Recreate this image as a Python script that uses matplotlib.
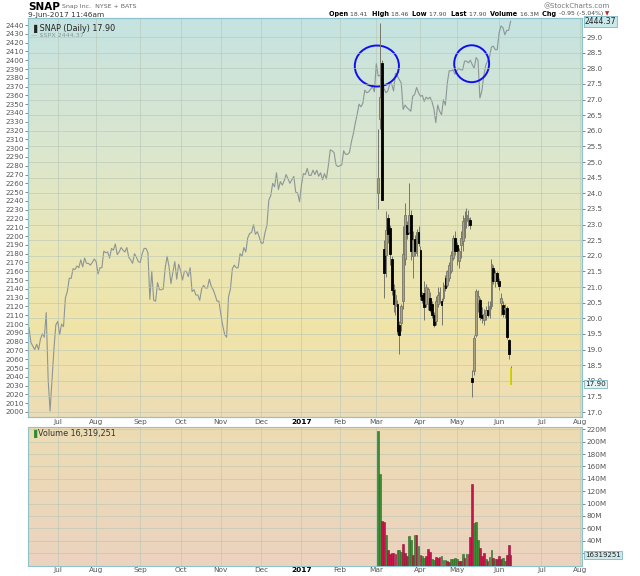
import numpy as np
import pandas as pd
import matplotlib
matplotlib.use("Agg")
import matplotlib.pyplot as plt
from matplotlib.patches import Ellipse, Rectangle
from matplotlib.colors import LinearSegmentedColormap

# ---------------- data ----------------
holidays = ["2016-07-04", "2016-09-05", "2016-11-24", "2016-12-26", "2017-01-02",
            "2017-01-16", "2017-02-20", "2017-04-14", "2017-05-29", "2017-07-04"]
days = pd.bdate_range("2016-06-10", "2017-08-10", freq="C", holidays=holidays)

spx_close = [
    # Jun 2016 (from 10th)
    2096, 2079, 2075, 2071, 2077, 2071, 2083, 2089, 2085, 2113, 2037, 2001, 2036, 2071, 2099,
    # Jul
    2103, 2088, 2100, 2097, 2130, 2137, 2152, 2152, 2163, 2162, 2166, 2164, 2173, 2165, 2175,
    2169, 2169, 2167, 2170, 2174,
    # Aug
    2171, 2157, 2164, 2164, 2183, 2181, 2182, 2175, 2186, 2184, 2191, 2179, 2182, 2187, 2184,
    2182, 2187, 2176, 2173, 2169, 2180, 2176, 2171,
    # Sep
    2170, 2180, 2186, 2186, 2181, 2128, 2160, 2127, 2126, 2147, 2139, 2139, 2140, 2164, 2177,
    2165, 2146, 2159, 2171, 2151, 2168,
    # Oct
    2161, 2150, 2160, 2160, 2154, 2164, 2137, 2139, 2133, 2133, 2127, 2140, 2144, 2141, 2141,
    2151, 2143, 2139, 2133, 2126, 2126,
    # Nov
    2111, 2098, 2088, 2085, 2131, 2140, 2163, 2167, 2164, 2164, 2180, 2177, 2187, 2182, 2198,
    2203, 2204, 2213, 2202, 2205, 2199,
    # Dec
    2192, 2192, 2204, 2212, 2241, 2246, 2260, 2256, 2272, 2253, 2262, 2258, 2263, 2270, 2265,
    2260, 2264, 2268, 2250, 2249, 2239,
    # Jan 2017
    2258, 2271, 2270, 2277, 2269, 2269, 2275, 2270, 2275, 2268, 2272, 2264, 2271, 2265, 2280,
    2298, 2297, 2295, 2281, 2279,
    # Feb
    2280, 2281, 2297, 2293, 2293, 2295, 2307, 2316, 2328, 2338, 2350, 2347, 2351, 2366, 2363,
    2364, 2367, 2370, 2364,
    # Mar
    2396, 2382, 2383, 2375, 2368, 2363, 2365, 2373, 2373, 2365, 2385, 2382, 2378, 2374, 2344,
    2349, 2346, 2344, 2342, 2359, 2361, 2369, 2363,
    # Apr
    2359, 2360, 2353, 2358, 2356, 2358, 2353, 2345, 2329, 2349, 2342, 2338, 2355, 2349, 2374,
    2388, 2388, 2389, 2384,
    # May
    2388, 2391, 2389, 2389, 2399, 2399, 2397, 2400, 2395, 2391, 2403, 2400, 2357, 2365, 2382,
    2394, 2399, 2404, 2415, 2416, 2412, 2412,
    # Jun
    2431, 2439, 2437, 2429, 2434, 2434, 2444.37,
]

snap_start = "2017-03-02"
snap_open = [24.00, 26.39, 28.17, 22.21, 22.03, 23.20, 22.90, 21.90, 20.90, 20.40,
             20.45, 19.80, 19.85, 20.55, 21.90, 23.00, 22.75, 23.30, 22.00, 22.55,
             22.10, 22.75, 22.20, 20.75, 20.80, 20.45, 20.50, 20.64, 20.45, 20.10,
             19.90, 20.45, 20.60, 20.54, 20.64, 21.29, 21.07, 21.29, 21.50, 21.93,
             22.57, 22.35, 21.82, 22.36, 22.47, 22.79, 23.11, 23.10, 23.15, 18.10,
             18.30, 19.47, 20.50, 20.60, 20.10, 19.95, 20.10, 20.25, 20.10, 20.40,
             21.60, 21.20, 21.45, 21.20, 20.50, 20.43, 20.30, 20.32, 19.30, 18.41]
snap_high = [26.05, 29.44, 28.25, 22.50, 23.43, 23.35, 23.00, 22.00, 21.10, 20.95,
             20.60, 19.90, 20.45, 22.95, 23.70, 23.10, 24.33, 23.45, 22.80, 22.65,
             22.85, 22.95, 22.30, 20.85, 21.20, 21.10, 21.00, 20.85, 20.55, 20.20,
             20.70, 21.00, 21.00, 20.65, 21.15, 21.39, 21.55, 21.80, 22.15, 22.65,
             22.79, 22.45, 22.25, 22.79, 23.32, 23.43, 23.54, 23.45, 23.25, 18.35,
             19.45, 20.95, 20.90, 20.65, 20.35, 20.30, 20.40, 20.55, 20.55, 21.90,
             21.70, 21.55, 21.50, 21.30, 20.80, 20.55, 20.45, 20.40, 19.35, 18.46]
snap_low = [23.50, 26.06, 23.77, 20.64, 21.31, 22.40, 21.70, 20.75, 20.20, 20.10,
            19.50, 18.85, 19.60, 20.30, 21.70, 22.55, 22.70, 21.85, 21.30, 22.00,
            22.00, 22.30, 20.60, 20.50, 19.95, 20.35, 20.25, 20.20, 20.00, 19.72,
            19.80, 20.35, 20.50, 19.79, 20.55, 20.86, 21.00, 21.20, 21.45, 21.85,
            22.04, 21.72, 21.61, 21.93, 22.14, 22.57, 22.90, 22.95, 22.85, 17.48,
            18.20, 19.40, 20.20, 19.95, 19.85, 19.80, 19.95, 20.05, 20.00, 20.30,
            21.10, 21.00, 21.10, 20.90, 20.10, 20.05, 20.00, 19.35, 18.70, 17.90]
snap_close = [24.48, 27.09, 23.77, 21.44, 22.81, 22.71, 22.07, 20.90, 20.45, 20.75,
              19.60, 19.45, 20.40, 22.05, 23.30, 22.70, 23.30, 22.14, 22.50, 22.14,
              22.75, 22.40, 20.70, 20.60, 20.35, 21.00, 20.95, 20.25, 20.10, 19.80,
              20.55, 20.75, 20.85, 20.43, 21.07, 20.97, 21.50, 21.72, 22.04, 22.57,
              22.14, 22.14, 22.14, 22.57, 23.11, 23.22, 23.32, 23.20, 22.98, 17.95,
              19.36, 20.86, 20.70, 20.05, 20.00, 20.15, 20.25, 20.10, 20.40, 21.75,
              21.18, 21.45, 21.20, 21.02, 20.65, 20.15, 20.32, 19.41, 18.85, 17.90]
snap_volume_m = [217, 148, 72, 71, 50, 25, 19, 20, 20, 18,
                 24.5, 24.5, 22, 35, 20, 16, 48, 41, 17, 49,
                 50, 32, 17, 15, 12, 15.5, 26, 22, 10, 9,
                 13, 12, 13, 16, 9, 9.6, 7, 6, 10.4, 10.9,
                 12, 9.8, 7.6, 7.6, 19, 12.6, 18, 18, 46.6, 132,
                 68, 70, 41, 29, 16, 20, 9.8, 7.6, 14, 24.5,
                 11.7, 10.9, 10.4, 16, 11, 12, 7.6, 17, 33, 16.3]
volume_dir = ("ggrrgrrrrrgggrrrggrgrgrggrrrggrrrgggrrg"
              "gggrrgrgrrr" "gggrrrgrgg" "rgrrrggrrr")

month_labels = ["Jul", "Aug", "Sep", "Oct", "Nov", "Dec", "2017",
                "Feb", "Mar", "Apr", "May", "Jun", "Jul", "Aug"]
snap_ticks = np.arange(17.0, 29.01, 0.5)
spx_ticks = np.arange(2000, 2441, 10)
vol_ticks = np.arange(20, 221, 20)

# ---------------- positions ----------------
n_spx = len(spx_close)
spx_x = np.arange(n_spx)
s0 = days.get_loc(pd.Timestamp(snap_start))
snap_x = np.arange(s0, s0 + len(snap_close))
mstarts = []
for y, m in [(2016, 7), (2016, 8), (2016, 9), (2016, 10), (2016, 11), (2016, 12),
             (2017, 1), (2017, 2), (2017, 3), (2017, 4), (2017, 5), (2017, 6),
             (2017, 7), (2017, 8)]:
    mstarts.append(int(np.argmax((days.year == y) & (days.month == m))))

# ---------------- figure ----------------
W, H = 640, 576
fig = plt.figure(figsize=(6.4, 5.76), dpi=100)
fig.patch.set_facecolor("white")


def rect(l, t, r, b):
    return [l / W, 1 - b / H, (r - l) / W, (b - t) / H]


main_rect = rect(28, 18, 582, 417)
vol_rect = rect(28, 427, 582, 566)

grad = np.linspace(0, 1, 256).reshape(-1, 1)
main_cmap = LinearSegmentedColormap.from_list(
    "m", [(0, "#c5e3e1"), (0.3, "#d9e6d0"), (0.55, "#e9e7b9"), (0.78, "#f0e4a8"), (1, "#eedcb5")])
vol_cmap = LinearSegmentedColormap.from_list("v", [(0, "#eddcb2"), (1, "#ebd3c0")])
for r, cm in [(main_rect, main_cmap), (vol_rect, vol_cmap)]:
    bg = fig.add_axes(r, zorder=-5)
    bg.imshow(grad, aspect="auto", cmap=cm, extent=(0, 1, 0, 1), origin="upper")
    bg.set_axis_off()

XL = (-0.5, 288.2)
grid_c = "#b9c7b6"
lab_c = "#555555"

# main panel: SPX (left) + SNAP (right)
ax = fig.add_axes(main_rect)
ax.patch.set_visible(False)
ax.plot(spx_x, spx_close, color="#8c9696", lw=0.8, zorder=2)
ax.set_xlim(*XL)
ax.set_ylim(1994.3, 2448.0)
ax.set_yticks(spx_ticks)
ax.set_yticklabels([f"{v:d}" for v in spx_ticks])
ax.tick_params(axis="y", labelsize=5.2, colors=lab_c, length=2, width=0.5, pad=1)
ax.set_xticks(mstarts)
ax.set_xticklabels(month_labels)
ax.tick_params(axis="x", labelsize=5.3, colors=lab_c, length=0, pad=1.5)
for lab in ax.get_xticklabels():
    if lab.get_text() == "2017":
        lab.set_fontweight("bold")
        lab.set_color("black")
for x in mstarts:
    ax.axvline(x, color=grid_c, lw=0.6, alpha=0.7, zorder=1)

axs = ax.twinx()
axs.set_ylim(16.84, 29.61)
axs.set_xlim(*XL)
axs.set_yticks(snap_ticks)
axs.set_yticklabels([f"{v:.1f}" for v in snap_ticks])
axs.tick_params(axis="y", labelsize=5.2, colors=lab_c, length=2, width=0.5, pad=1)
for v in snap_ticks:
    axs.axhline(v, color=grid_c, lw=0.6, alpha=0.7, zorder=0)

for i in range(len(snap_close)):
    x = snap_x[i]
    o, h, l, c = snap_open[i], snap_high[i], snap_low[i], snap_close[i]
    axs.vlines(x, l, h, color="#77776a", lw=0.7, zorder=3)
    lo, hi = min(o, c), max(o, c)
    hi = max(hi, lo + 0.03)
    last = i == len(snap_close) - 1
    if c >= o:
        fc, ec = "#aaa384", "#77776a"
    else:
        fc, ec = "black", "black"
    if last:
        ec = "#e6e600"
    axs.add_patch(Rectangle((x - 0.45, lo), 0.9, hi - lo, facecolor=fc, edgecolor=ec,
                            lw=0.6, zorder=4))

# annotation circles (drawn in SPX coordinates)
for cx, cy, w, h in [(181.3, 2393.4, 23.0, 46.6), (230.7, 2396.0, 18.2, 42.0)]:
    ax.add_patch(Ellipse((cx, cy), w, h, fill=False, edgecolor="#1010ee", lw=1.4, zorder=6))

# value boxes
axs.text(1.005, snap_close[-1], f"{snap_close[-1]:.2f}", transform=axs.get_yaxis_transform(),
         fontsize=5.2, va="center", ha="left", color="#222",
         bbox=dict(boxstyle="square,pad=0.15", fc="#e6f2f2", ec="#7fb6c0", lw=0.6), zorder=10,
         clip_on=False)
ax.text(1.005, spx_close[-1], f"{spx_close[-1]:.2f}", transform=ax.get_yaxis_transform(),
        fontsize=5.5, va="center", ha="left", color="#222",
        bbox=dict(boxstyle="square,pad=0.15", fc="#c8e8ea", ec="#7fb6c0", lw=0.6), zorder=10,
        clip_on=False)

# volume panel
axv = fig.add_axes(vol_rect)
axv.patch.set_visible(False)
vcol = ["#3e8c35" if d == "g" else "#c5174b" for d in volume_dir]
vedge = ["#2b6a24" if d == "g" else "#961038" for d in volume_dir]
axv.bar(snap_x, snap_volume_m, width=0.9, color=vcol, edgecolor=vedge, lw=0.4, zorder=3)
axv.set_xlim(*XL)
axv.set_ylim(-0.8, 223.7)
axv.yaxis.tick_right()
axv.set_yticks(vol_ticks)
axv.set_yticklabels([f"{v}M" for v in vol_ticks])
axv.tick_params(axis="y", labelsize=5.2, colors=lab_c, length=2, width=0.5, pad=1)
axv.set_xticks(mstarts)
axv.set_xticklabels(month_labels)
axv.tick_params(axis="x", labelsize=5.3, colors=lab_c, length=0, pad=0.8)
for lab in axv.get_xticklabels():
    if lab.get_text() == "2017":
        lab.set_fontweight("bold")
        lab.set_color("black")
for x in mstarts:
    axv.axvline(x, color=grid_c, lw=0.6, alpha=0.7, zorder=1)
for v in vol_ticks:
    axv.axhline(v, color=grid_c, lw=0.6, alpha=0.7, zorder=1)
axv.text(1.005, snap_volume_m[-1], "16319251", transform=axv.get_yaxis_transform(),
         fontsize=5.0, va="center", ha="left", color="#222",
         bbox=dict(boxstyle="square,pad=0.15", fc="#cfe8ea", ec="#7fb6c0", lw=0.6), zorder=10,
         clip_on=False)

for a in (ax, axs, axv):
    for sp in a.spines.values():
        sp.set_color("#8fc3cc")
        sp.set_linestyle((0, (1, 1)))
        sp.set_linewidth(0.8)

# ---------------- texts ----------------
renderer = fig.canvas.get_renderer()


def seq_text(x_px, y_px, parts, ha="left"):
    """Draw a run of text pieces (text, weight, color, size) left to right."""
    objs = []
    for txt, wt, col, sz in parts:
        objs.append(fig.text(0, 1 - y_px / H, txt, fontsize=sz, fontweight=wt, color=col,
                             va="center", ha="left"))
    widths = [o.get_window_extent(renderer).width for o in objs]
    total = sum(widths)
    start = x_px if ha == "left" else x_px - total
    cur = start
    for o, w in zip(objs, widths):
        o.set_x(cur / W)
        cur += w


seq_text(28, 6.5, [("SNAP", "bold", "black", 7.5), (" Snap Inc.  NYSE + BATS", "normal", "#666", 4.5)])
fig.text(28 / W, 1 - 14.5 / H, "9-Jun-2017 11:46am", fontsize=5.3, color="#333", va="center")
fig.text(610 / W, 1 - 6 / H, "@StockCharts.com", fontsize=5.0, color="#777", va="center", ha="right")
seq_text(603, 14.0, [("Open ", "bold", "black", 4.7), ("18.41  ", "normal", "#444", 4.4),
                     ("High ", "bold", "black", 4.7), ("18.46  ", "normal", "#444", 4.4),
                     ("Low ", "bold", "black", 4.7), ("17.90  ", "normal", "#444", 4.4),
                     ("Last ", "bold", "black", 4.7), ("17.90  ", "normal", "#444", 4.4),
                     ("Volume ", "bold", "black", 4.7), ("16.3M  ", "normal", "#444", 4.4),
                     ("Chg ", "bold", "black", 4.7), ("-0.95 (-5.04%)", "normal", "#444", 4.4)],
         ha="right")
fig.text(607 / W, 1 - 14.0 / H, "\u25bc", fontsize=4, color="#cc2222", va="center", ha="center")

ax.text(0.005, 0.985, "\u2590 SNAP (Daily) 17.90", transform=ax.transAxes, fontsize=5.8,
        color="#222", va="top", ha="left", zorder=10)
ax.text(0.005, 0.962, "\u2014 $SPX 2444.37", transform=ax.transAxes, fontsize=4.6,
        color="#8a9898", va="top", ha="left", zorder=10)
axv.text(0.005, 0.985, "\u2590", transform=axv.transAxes, fontsize=5.8, color="#2e8a2e",
         va="top", ha="left", zorder=10)
axv.text(0.018, 0.985, "Volume 16,319,251", transform=axv.transAxes, fontsize=5.8,
         color="#333", va="top", ha="left", zorder=10)

fig.savefig("out.png", dpi=100, facecolor="white")
